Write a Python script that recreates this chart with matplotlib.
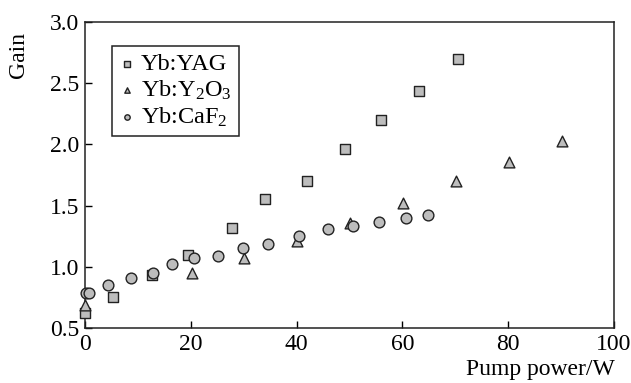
import matplotlib
matplotlib.use("Agg")
import matplotlib.pyplot as plt

plt.rcParams['font.family'] = ['Liberation Serif', 'DejaVu Serif']
plt.rcParams['mathtext.fontset'] = 'custom'
plt.rcParams['mathtext.rm'] = 'Liberation Serif'

# Yb:YAG
yag_x = [0, 5.3, 12.7, 19.5, 27.8, 34.0, 42.0, 49.1, 56.0, 63.1, 70.5]
yag_y = [0.62, 0.75, 0.93, 1.10, 1.32, 1.55, 1.70, 1.96, 2.20, 2.44, 2.70]

# Yb:Y2O3
y2o3_x = [0, 20.2, 30.1, 40.0, 50.1, 60.1, 70.1, 80.1, 90.2]
y2o3_y = [0.69, 0.95, 1.07, 1.21, 1.36, 1.52, 1.70, 1.86, 2.03]

# Yb:CaF2
caf2_x = [0.1, 0.8, 4.4, 8.7, 12.9, 16.5, 20.6, 25.1, 29.9, 34.6, 40.5,
          45.9, 50.7, 55.6, 60.7, 64.9]
caf2_y = [0.79, 0.79, 0.85, 0.91, 0.95, 1.02, 1.07, 1.09, 1.15, 1.19, 1.25,
          1.31, 1.33, 1.37, 1.40, 1.42]

x_ticks = [0, 20, 40, 60, 80, 100]
y_ticks = [0.5, 1.0, 1.5, 2.0, 2.5, 3.0]

fig = plt.figure(figsize=(6.31, 3.83), dpi=100)
ax = fig.add_axes([0.1347, 0.1436, 0.8383, 0.799])

face = '#bdbdbd'
edge = '#222222'
ax.scatter(yag_x, yag_y, marker='s', s=55, facecolor=face, edgecolor=edge,
           linewidth=1.0, label='Yb:YAG', zorder=3, clip_on=False)
ax.scatter(y2o3_x, y2o3_y, marker='^', s=60, facecolor=face, edgecolor=edge,
           linewidth=1.0, label='Yb:Y$\\mathregular{_2}$O$\\mathregular{_3}$',
           zorder=3, clip_on=False)
ax.scatter(caf2_x, caf2_y, marker='o', s=60, facecolor=face, edgecolor=edge,
           linewidth=1.0, label='Yb:CaF$\\mathregular{_2}$', zorder=3, clip_on=False)

ax.set_xlim(0, 100)
ax.set_ylim(0.5, 3.0)
ax.set_xticks(x_ticks)
ax.set_yticks(y_ticks)
ax.set_yticklabels(['%.1f' % v for v in y_ticks])
ax.tick_params(direction='in', length=5, width=1, labelsize=17, pad=4)
for sp in ax.spines.values():
    sp.set_linewidth(1.1)
    sp.set_color('#222222')

fig.text(0.03, 0.857, 'Gain', rotation=90, fontsize=17, ha='center', va='center')
fig.text(0.975, 0.035, 'Pump power/W', fontsize=17, ha='right', va='center')

leg = ax.legend(loc='upper left', bbox_to_anchor=(0.051, 0.922), borderaxespad=0,
                fontsize=17.5, markerscale=0.5, handlelength=0.6, handletextpad=0.3,
                labelspacing=0.15, borderpad=0.3, fancybox=False, framealpha=1)
leg.get_frame().set_edgecolor('#222222')
leg.get_frame().set_linewidth(1.1)

fig.savefig('out.png', dpi=100)
